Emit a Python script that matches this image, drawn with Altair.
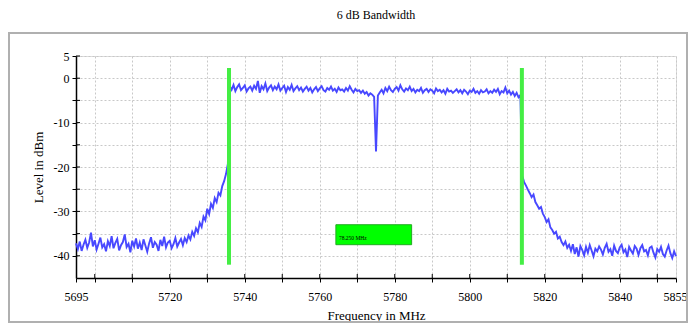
import altair as alt
import pandas as pd

title_text = "6 dB Bandwidth"
x_title = "Frequency in MHz"
y_title = "Level in dBm"

freq_start = 5695.0
freq_step = 0.5

floor_left = [
    -37.2, -38.5, -36.8, -38.9, -37.5, -36.4, -38.2, -37.0, -34.8, -37.9, -36.5, -38.6, -37.3, -35.9, -38.1, -37.4, -39.0, -36.7, -37.8, -35.6,
    -38.3, -37.1, -36.2, -38.8, -37.6, -36.9, -35.2, -38.0, -37.3, -39.2, -36.6, -37.9, -36.1, -38.4, -37.0, -38.7, -36.3, -37.7, -39.1, -37.2,
    -35.8, -38.2, -36.9, -37.5, -38.9, -36.4, -37.8, -35.7, -38.1, -37.0, -36.6, -38.3, -37.4, -36.0, -37.9,
]
rise = [
    -37.0, -36.2, -37.6, -36.0, -36.9, -35.4, -36.3, -34.6, -35.5, -33.8, -34.7, -32.6, -33.5, -31.2,
    -32.0, -29.4, -30.6, -28.3, -29.2, -27.0, -27.9, -25.8, -26.4, -24.3, -23.2, -21.6, -19.3,
]
passband = [
    -1.8, -2.6, -1.5, -2.9, -2.0, -1.4, -2.7, -2.2, -1.6, -3.0, -2.3, -1.9, -2.8, -1.7, -2.4, -0.6, -3.3, -1.8, -2.5, -1.2,
    -2.9, -2.1, -1.6, -2.7, -1.9, -2.5, -1.4, -2.8, -2.2, -1.7, -3.1, -2.0, -2.6, -1.5, -2.9, -2.3, -1.8, -2.7, -2.1, -3.0,
    -2.4, -1.9, -2.8, -2.2, -3.2, -2.5, -2.0, -2.9, -2.3, -1.8, -2.7, -3.0, -2.2, -2.6, -1.9, -2.8, -2.4, -3.1, -2.1, -2.7,
    -2.5, -3.0, -2.2, -2.8, -1.8, -2.6, -3.2, -2.4, -2.9, -2.7, -3.3, -2.8, -3.5, -3.1, -3.9, -3.4, -3.7, -4.2, -16.5, -3.9,
    -3.2, -2.6, -3.4, -2.2, -2.9, -1.9, -2.7, -3.1, -2.4, -2.0, -2.8, -1.6, -2.5, -3.0, -2.3, -2.7, -1.9, -2.9, -2.4, -3.2,
    -2.6, -2.9, -2.2, -3.3, -2.7, -2.4, -3.1, -2.5, -2.8, -3.4, -2.3, -2.9, -2.6, -3.2, -2.7, -3.5, -2.4, -3.0, -2.8, -3.3,
    -2.9, -2.5, -3.2, -2.7, -3.4, -2.6, -3.0, -3.6, -2.8, -3.1, -2.4, -3.3, -2.9, -3.5, -2.7, -3.2, -3.0, -2.5, -3.4, -2.9,
    -3.3, -2.6, -3.1, -2.4, -3.6, -2.9, -3.2, -2.1, -3.4, -2.8, -3.7, -3.1, -4.0, -3.3, -4.3, -3.8,
]
fall = [
    -22.0, -23.4, -24.2, -25.1, -25.9, -26.8, -26.2, -27.9, -28.6, -29.4, -29.0, -30.5, -31.3,
    -32.4, -31.8, -33.6, -34.2, -35.0, -34.6, -36.1, -35.7, -36.9, -37.6, -36.8, -38.2, -37.5,
]
floor_right = [
    -38.9, -37.4, -39.6, -38.1, -40.2, -37.8, -38.7, -39.9, -38.0, -39.3, -37.6, -38.8, -40.1, -38.4, -39.0, -37.9, -38.6, -39.7, -38.2, -37.3,
    -39.1, -38.5, -40.0, -37.7, -38.9, -39.4, -38.1, -37.5, -39.2, -38.6, -40.3, -38.0, -38.8, -39.5, -37.8, -38.4, -39.8, -38.3, -37.6, -39.0,
    -38.7, -39.9, -38.2, -37.9, -39.3, -40.4, -38.5, -39.1, -38.0, -39.6, -40.2, -38.8, -37.7, -39.4, -40.5, -39.0, -40.1,
]

marker_freqs = [5735.8, 5813.9]
marker_top = 2.3
marker_bottom = -42.0

bw_label = "78.250 MHz"
bw_f1, bw_f2 = 5764.3, 5784.5
bw_l1, bw_l2 = -33.0, -37.5

x_domain = [5695, 5855]
y_domain = [-45, 5]
x_minor = [5700, 5710, 5720, 5730, 5740, 5750, 5760, 5770, 5780, 5790, 5800, 5810, 5820, 5830, 5840, 5850]
x_labels = [5695, 5720, 5740, 5760, 5780, 5800, 5820, 5840, 5855]
y_ticks = [5, 0, -5, -10, -15, -20, -25, -30, -35, -40]
y_labels = [5, 0, -10, -20, -30, -40]

SERIF = "'Liberation Serif', 'Times New Roman', Times, serif"

levels = floor_left + rise + passband + fall + floor_right
trace = pd.DataFrame({
    "freq": [freq_start + freq_step * i for i in range(len(levels))],
    "level": levels,
})
markers = pd.DataFrame({
    "freq": marker_freqs,
    "level": [marker_top] * len(marker_freqs),
    "level2": [marker_bottom] * len(marker_freqs),
})
box = pd.DataFrame({"freq": [bw_f1], "freq2": [bw_f2], "level": [bw_l1], "level2": [bw_l2],
                    "mid": [(bw_l1 + bw_l2) / 2], "label": [bw_label]})
xt = pd.DataFrame({"freq": x_minor})
yt = pd.DataFrame({"level": y_ticks})

W, H = 600, 222

x_all = sorted(set(x_minor + x_labels))
x_label_expr = "indexof([" + ",".join(str(v) for v in x_labels) + "], datum.value) >= 0 ? toString(datum.value) : ''"
y_label_expr = "indexof([" + ",".join(str(v) for v in y_labels) + "], datum.value) >= 0 ? toString(datum.value) : ''"
last_test = f"datum.value == {x_labels[-1]}"

xscale = alt.Scale(domain=x_domain, nice=False, zero=False)
yscale = alt.Scale(domain=y_domain, nice=False, zero=False)
xaxis = alt.Axis(values=x_all, labelExpr=x_label_expr, title=x_title, grid=True,
                 gridDash=[2, 2], gridColor="#c8c8c8", tickSize=4, tickColor="#000",
                 domainColor="#000", domainWidth=1.5, labelPadding=9, labelFontSize=12,
                 titleFontSize=13, titleFontWeight="normal", titlePadding=7,
                 labelFont=SERIF, titleFont=SERIF, labelColor="#000",
                 titleColor="#000", labelFlush=False,
                 labelAlign=alt.condition(last_test, alt.value("right"), alt.value("center")),
                 labelOffset=alt.condition(last_test, alt.value(11), alt.value(0)))
yaxis = alt.Axis(values=y_ticks, labelExpr=y_label_expr, title=y_title, grid=True,
                 gridDash=[2, 2], gridColor="#c8c8c8", tickSize=4, tickColor="#000",
                 domainColor="#000", domainWidth=1.5, labelPadding=3, labelFontSize=12,
                 titleFontSize=13, titleFontWeight="normal", titlePadding=8,
                 labelFont=SERIF, titleFont=SERIF, labelColor="#000",
                 titleColor="#000")


def X(field="freq"):
    return alt.X(field + ":Q", scale=xscale, axis=xaxis)


def Y(field="level"):
    return alt.Y(field + ":Q", scale=yscale, axis=yaxis)


frame = alt.Chart(alt.Data(values=[{}])).mark_rect(
    filled=False, stroke="#b0b0b0", strokeWidth=2
).encode(x=alt.value(-67), x2=alt.value(611), y=alt.value(-23), y2=alt.value(266))

line = alt.Chart(trace).mark_line(color="#4848ff", strokeWidth=1.9).encode(x=X(), y=Y())

mk = alt.Chart(markers).mark_rule(color="#44ee44", strokeWidth=4).encode(
    x=X(), y=Y(), y2=alt.Y2("level2"))

rect = alt.Chart(box).mark_rect(fill="#00ff00", stroke="#22aa22", strokeWidth=1).encode(
    x=X(), x2=alt.X2("freq2"), y=Y(), y2=alt.Y2("level2"))

txt = alt.Chart(box).mark_text(align="left", baseline="middle", fontSize=5.5, dx=3, dy=3,
                               color="#000", font=SERIF).encode(
    x=X(), y=Y("mid"), text="label:N")

xtick_in = alt.Chart(xt).mark_rule(color="#000", strokeWidth=1).encode(
    x=X(), y=alt.value(H - 4), y2=alt.value(H))
ytick_in = alt.Chart(yt).mark_rule(color="#000", strokeWidth=1).encode(
    y=Y(), x=alt.value(0), x2=alt.value(4))

chart = alt.layer(frame, line, mk, rect, txt, xtick_in, ytick_in).properties(
    width=W, height=H,
    title=alt.TitleParams(title_text, fontSize=12, font=SERIF, fontWeight="normal",
                          color="#000", offset=10, frame="group", anchor="middle"),
    autosize=alt.AutoSizeParams(type="none"),
    padding={"left": 68, "top": 48, "right": 12, "bottom": 46},
).configure_view(stroke=None).configure(background="#ffffff")

chart.save("out.html", embed_options={"renderer": "svg", "actions": False})
